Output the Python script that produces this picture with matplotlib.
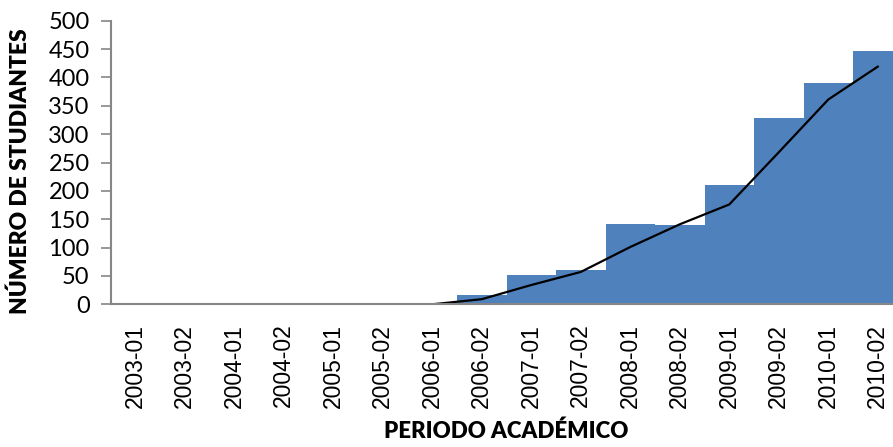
import matplotlib
matplotlib.use("Agg")
import matplotlib.pyplot as plt
import numpy as np

categories = ["2003-01", "2003-02", "2004-01", "2004-02", "2005-01", "2005-02",
              "2006-01", "2006-02", "2007-01", "2007-02", "2008-01", "2008-02",
              "2009-01", "2009-02", "2010-01", "2010-02"]
students = [0, 0, 0, 0, 0, 0, 0, 17, 51, 61, 141, 140, 210, 329, 390, 447]
trend = [np.nan, np.nan, np.nan, np.nan, np.nan, np.nan,
         0, 9, 34, 57, 101, 141, 176, 268, 361, 419]
yticks = [0, 50, 100, 150, 200, 250, 300, 350, 400, 450, 500]

W, H = 893, 447
fig = plt.figure(figsize=(W / 100, H / 100), dpi=100)
ax = fig.add_axes([110.5 / W, 1 - 304.3 / H, (902.5 - 110.5) / W, (304.3 - 20.7) / H])

x = np.arange(len(categories))
ax.bar(x, students, width=1.0, color="#4F81BD", edgecolor="none", zorder=1)
ax.plot(x, trend, color="black", lw=1.6, zorder=3, solid_joinstyle="round")

ax.set_xlim(-0.5, len(categories) - 0.5)
ax.set_ylim(0, 500)
ax.set_yticks(yticks)
ax.set_yticklabels([str(v) for v in yticks], fontfamily="Lato", fontsize=17)
ax.set_xticks(x)
ax.set_xticklabels(categories, rotation=90, fontfamily="Liberation Sans", fontsize=16.5)

for s in ["top", "right"]:
    ax.spines[s].set_visible(False)
for s in ["left", "bottom"]:
    ax.spines[s].set_color("#868686")
    ax.spines[s].set_linewidth(1.5)
    ax.spines[s].set_zorder(4)
ax.tick_params(axis="y", length=7, width=1.2, color="#868686", pad=8)
ax.tick_params(axis="x", length=0, pad=14)

ax.set_ylabel("NÚMERO DE STUDIANTES", fontfamily="Lato", fontweight="heavy", fontsize=16.4)
ax.yaxis.set_label_coords((31 - 110.5) / 792, (304.3 - 171) / 283.6)
ax.set_xlabel("PERIODO ACADÉMICO", fontfamily="Lato", fontweight="heavy", fontsize=16)
ax.xaxis.set_label_coords(0.5, (304.3 - 420) / 283.6)

fig.savefig("out.png", dpi=100)
